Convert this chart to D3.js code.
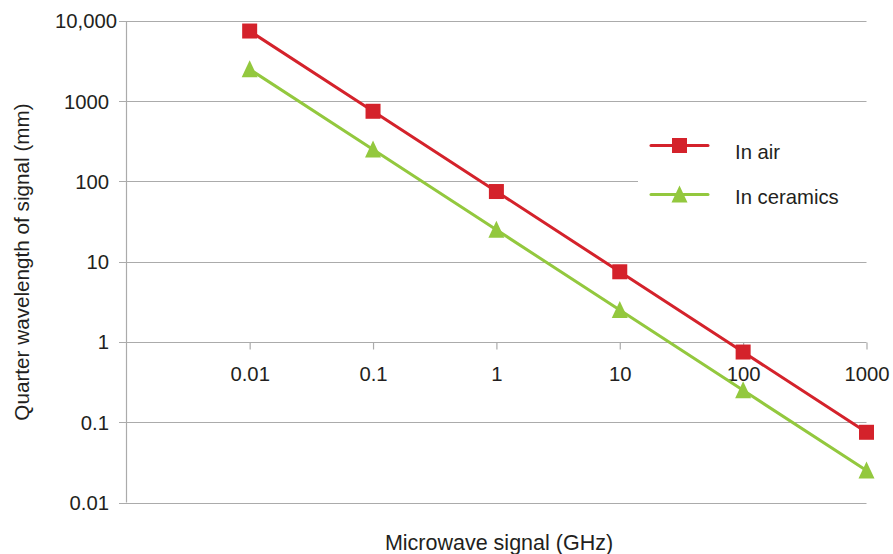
<!DOCTYPE html>
<html>
<head>
<meta charset="utf-8">
<script src="https://cdn.jsdelivr.net/npm/d3@7"></script>
<style>
  body { margin: 0; background: #fff; }
  text { font-family: "Liberation Sans", Arial, sans-serif; fill: #231f20; }
</style>
</head>
<body>
<svg id="chart"></svg>
<script>
const [w, h] = [893, 554];

// data
const frequencies = [0.01, 0.1, 1, 10, 100, 1000];
const inAir = [7500, 750, 75, 7.5, 0.75, 0.075];
const inCeramics = [2500, 250, 25, 2.5, 0.25, 0.025];
const yTicks = [0.01, 0.1, 1, 10, 100, 1000, 10000];
const yTickLabels = ['0.01', '0.1', '1', '10', '100', '1000', '10,000'];
const xTickLabels = ['0.01', '0.1', '1', '10', '100', '1000'];

const seriesList = [
    {name: 'In air', values: inAir, color: '#d4222b', marker: 'square'},
    {name: 'In ceramics', values: inCeramics, color: '#93c83e', marker: 'triangle'}
];

const fs = '20.3px';
const svg = d3.select('#chart').attr('width', w).attr('height', h);

const xScale = d3.scaleLog().domain([0.001, 1000]).range([126.3, 866.5]);
const yScale = d3.scaleLog().domain([0.01, 10000]).range([502.5, 21]);

// gridlines
svg.append('g')
    .selectAll('line')
    .data(yTicks)
    .enter()
    .append('line')
        .attr('x1', 119)
        .attr('x2', xScale(1000))
        .attr('y1', d => Math.round(yScale(d)) + 0.5)
        .attr('y2', d => Math.round(yScale(d)) + 0.5)
        .attr('stroke', '#ababab')
        .attr('stroke-width', 1.2);

// y axis line
svg.append('line')
    .attr('x1', 126.5).attr('x2', 126.5)
    .attr('y1', yScale(10000)).attr('y2', yScale(0.01))
    .attr('stroke', '#ababab')
    .attr('stroke-width', 1.2);

// y tick labels
svg.append('g')
    .selectAll('text')
    .data(yTicks)
    .enter()
    .append('text')
        .attr('x', (d, i) => i === yTicks.length - 1 ? 117 : 109)
        .attr('y', d => yScale(d))
        .attr('dy', '0.36em')
        .style('text-anchor', 'end')
        .style('font-size', fs)
        .text((d, i) => yTickLabels[i]);

// x axis crosses at y = 1
const xAxis = d3.axisBottom(xScale)
    .tickValues(frequencies)
    .tickFormat((d, i) => xTickLabels[i])
    .tickSize(7)
    .tickPadding(17);

const gx = svg.append('g')
    .attr('transform', `translate(0, ${Math.round(yScale(1)) + 0.5})`)
    .call(xAxis);
gx.select('.domain').remove();
gx.selectAll('.tick line').attr('stroke', '#ababab').attr('stroke-width', 1.2);
gx.selectAll('.tick text')
    .style('font-size', fs)
    .style('font-family', '"Liberation Sans", Arial, sans-serif')
    .attr('fill', '#231f20');

// legend background (hides the gridline behind it)
svg.append('rect')
    .attr('x', 638).attr('y', 118)
    .attr('width', 229).attr('height', 105)
    .attr('fill', '#fff');

const line = d3.line()
    .x((d, i) => xScale(frequencies[i]))
    .y(d => yScale(d));

const sq = 15, tri = 16;
function drawMarker(g, type, color) {
    if (type === 'square') {
        g.append('rect')
            .attr('x', -sq / 2).attr('y', -sq / 2)
            .attr('width', sq).attr('height', sq)
            .attr('fill', color);
    } else {
        g.append('path')
            .attr('d', `M0,${-tri / 2 - 1}L${tri / 2},${tri / 2}L${-tri / 2},${tri / 2}Z`)
            .attr('fill', color);
    }
}

seriesList.forEach(s => {
    svg.append('path')
        .datum(s.values)
        .attr('d', line)
        .attr('fill', 'none')
        .attr('stroke', s.color)
        .attr('stroke-width', 3);

    svg.selectAll(null)
        .data(s.values)
        .enter()
        .append('g')
            .attr('transform', (d, i) => `translate(${xScale(frequencies[i])}, ${yScale(d)})`)
            .each(function () { drawMarker(d3.select(this), s.marker, s.color); });
});

// legend
const legendY = [145.5, 194.5];
const legendTextY = [159, 204];
seriesList.forEach((s, i) => {
    const g = svg.append('g').attr('transform', `translate(651, ${legendY[i]})`);
    g.append('line')
        .attr('x1', 0).attr('x2', 57)
        .attr('stroke', s.color)
        .attr('stroke-width', 3)
        .attr('stroke-linecap', 'round');
    const m = g.append('g').attr('transform', 'translate(28.5, 0)');
    drawMarker(m, s.marker, s.color);
    svg.append('text')
        .attr('x', 735)
        .attr('y', legendTextY[i])
        .style('font-size', fs)
        .text(s.name);
});

// axis titles
svg.append('text')
    .attr('x', 499)
    .attr('y', 550)
    .style('text-anchor', 'middle')
    .style('font-size', '21.5px')
    .text('Microwave signal (GHz)');

svg.append('text')
    .attr('transform', 'translate(28.5, 262) rotate(-90)')
    .style('text-anchor', 'middle')
    .style('font-size', '20.7px')
    .text('Quarter wavelength of signal (mm)');
</script>
</body>
</html>
